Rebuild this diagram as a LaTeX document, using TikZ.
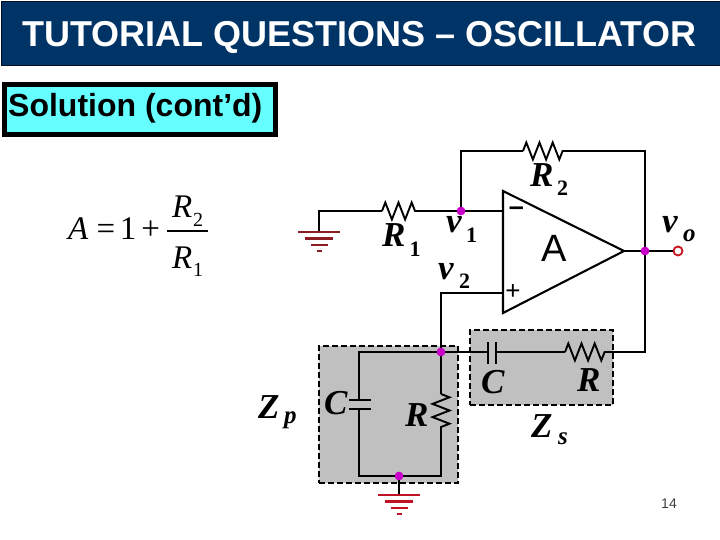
\documentclass[tikz,border=0pt]{standalone}
\usepackage{fontspec}
\setmainfont{Liberation Sans}
\newfontfamily\circuitfont{Liberation Serif}
\usetikzlibrary{decorations.pathmorphing}

\begin{document}
\begin{tikzpicture} [
    x=1pt, y=-1pt,
    wire/.style={black, line width=2.1pt, line join=miter},
    thinwire/.style={black, line width=1.7pt},
    resistor/.style={black, line width=1.9pt, decorate, decoration={zigzag, segment length=13.2pt, amplitude=8.5pt}},
    plate/.style={black, line width=2.2pt},
    impedance/.style={draw=black, fill=boxgray, line width=2pt, dash pattern=on 6pt off 3pt},
    junction/.style={circle, fill=dotmagenta, inner sep=0pt, minimum size=8.5pt},
    symbol/.style={anchor=base west, inner sep=0pt, font=\circuitfont\bfseries\itshape\fontsize{35}{35}\selectfont},
    subdigit/.style={anchor=base west, inner sep=0pt, font=\circuitfont\bfseries\fontsize{22}{22}\selectfont},
    subletter/.style={anchor=base west, inner sep=0pt, font=\circuitfont\bfseries\itshape\fontsize{25}{25}\selectfont},
    formula/.style={anchor=base west, inner sep=0pt, font=\circuitfont\fontsize{33}{33}\selectfont},
    formulasub/.style={anchor=base west, inner sep=0pt, font=\circuitfont\fontsize{20}{20}\selectfont},
    ground/.pic={
      \draw[line width=2.2pt] (-21,0) -- (21,0);
      \draw[line width=2.2pt] (-14,6.5) -- (14,6.5);
      \draw[line width=1.8pt] (-8.5,13) -- (8.5,13);
      \draw[line width=2.2pt] (-2.5,19) -- (2.5,19);
    }
  ]

\definecolor{titleblue}{RGB}{0, 51, 102}
\definecolor{boxcyan}{RGB}{102, 255, 255}
\definecolor{boxgray}{RGB}{192, 192, 192}
\definecolor{dotmagenta}{RGB}{200, 0, 200}
\definecolor{gnddark}{RGB}{140, 30, 35}
\definecolor{gndred}{RGB}{190, 20, 35}
\definecolor{outred}{RGB}{200, 20, 30}

\useasboundingbox (0,0) rectangle (720,540);

% title
\node[draw=black!70!titleblue, fill=titleblue, line width=1pt, minimum width=719pt, minimum height=64pt, anchor=north west, inner sep=0pt] (titlebar) at (0.5,1) {};
\node[anchor=base west, inner sep=0pt, text=white, font=\bfseries\fontsize{36}{36}\selectfont] (titletext) at (22,47) {TUTORIAL QUESTIONS – OSCILLATOR};

% solution box
\node[draw=black, fill=boxcyan, line width=5pt, minimum width=271pt, minimum height=50pt, anchor=north west, inner sep=0pt] (solbox) at (1.5,82.5) {};
\node[anchor=base west, inner sep=0pt, font=\bfseries\fontsize{32}{32}\selectfont] (soltext) at (8,117) {Solution (cont’d)};

% gain formula
\node[formula] (gainA) at (68,240) {\textit{A}};
\node[formula] (gainrest) at (96.5,240) {=\hspace{4.5pt}1\hspace{5pt}+};
\node[formula] (numR) at (172,218) {\textit{R}};
\node[formulasub] (numsub) at (193,226) {2};
\node[formula] (denR) at (172,268) {\textit{R}};
\node[formulasub] (densub) at (193,276) {1};
\coordinate (fracL) at (167,231);
\coordinate (fracR) at (208,231);
\draw[thinwire] (fracL) -- (fracR);

% impedance boxes
\node[impedance, minimum width=139pt, minimum height=137pt, anchor=north west, inner sep=0pt] (Zpbox) at (318,345) {};
\node[impedance, minimum width=143pt, minimum height=75pt, anchor=north west, inner sep=0pt] (Zsbox) at (469,329) {};

% junctions
\node[junction] (vonedot) at (461,211) {};
\node[junction] (vodot) at (645,251) {};
\node[junction] (vtwodot) at (441,352) {};
\node[junction] (gnddot) at (399,476) {};
\node[circle, draw=outred, fill=white, line width=1.8pt, inner sep=0pt, minimum size=9pt] (voterm) at (678,251) {};

% op amp
\coordinate (amptop) at (503,191);
\coordinate (ampbot) at (503,313);
\coordinate (ampout) at (624,251);
\draw[wire, line join=miter] (amptop) -- (ampout) -- (ampbot) -- cycle;
\coordinate (ampminus) at (503,211);
\coordinate (ampplus) at (503,293);

% left branch with R1
\coordinate (gndone) at (319,232);
\coordinate (gndonecorner) at (319,211);
\coordinate (Roneleft) at (382,211);
\coordinate (Roneright) at (421,211);
\draw[wire] (gndone) -- (gndonecorner) -- (Roneleft);
\draw[resistor] (Roneleft) -- (Roneright);
\draw[wire] (Roneright) -- (vonedot) -- (ampminus);
\pic[color=gnddark] at (319,232) {ground};

% feedback with R2
\coordinate (fbcorner) at (461,151);
\coordinate (Rtwoleft) at (523,151);
\coordinate (Rtworight) at (563,151);
\coordinate (outcorner) at (645,151);
\draw[wire] (vonedot) -- (fbcorner) -- (Rtwoleft);
\draw[resistor] (Rtwoleft) -- (Rtworight);
\draw[wire] (Rtworight) -- (outcorner) -- (vodot);

% output
\draw[thinwire] (ampout) -- (vodot) -- (voterm);

% series branch
\coordinate (seriescorner) at (645,352);
\coordinate (Rsright) at (605,352);
\coordinate (Rsleft) at (565,352);
\coordinate (Csright) at (496,352);
\coordinate (Csleft) at (488,352);
\draw[wire] (vodot) -- (seriescorner) -- (Rsright);
\draw[resistor] (Rsleft) -- (Rsright);
\draw[wire] (Rsleft) -- (Csright);
\draw[plate] (496,342) -- (496,364);
\draw[plate] (488,342) -- (488,364);
\draw[wire] (Csleft) -- (vtwodot);

% plus input
\coordinate (plusbend) at (441,293);
\draw[wire] (ampplus) -- (plusbend) -- (vtwodot);

% parallel branch
\coordinate (toplcorner) at (359,352);
\coordinate (Cptop) at (359,400);
\coordinate (Cpbot) at (359,409);
\coordinate (botlcorner) at (359,476);
\coordinate (botrcorner) at (441,476);
\coordinate (Rptop) at (441,394);
\coordinate (Rpbot) at (441,433);
\draw[wire] (vtwodot) -- (toplcorner) -- (Cptop);
\draw[plate] (349,400) -- (371,400);
\draw[plate] (349,409) -- (371,409);
\draw[wire] (Cpbot) -- (botlcorner) -- (gnddot) -- (botrcorner) -- (Rpbot);
\draw[resistor] (Rptop) -- (Rpbot);
\draw[wire] (Rptop) -- (vtwodot);

% bottom ground
\coordinate (gndtwo) at (399,495);
\draw[wire] (gnddot) -- (gndtwo);
\pic[color=gndred] at (399,495) {ground};

% redraw dots on top of wires
\node[junction] at (vonedot) {};
\node[junction] at (vodot) {};
\node[junction] at (vtwodot) {};
\node[junction] at (gnddot) {};

% op amp texts
\node[anchor=base west, inner sep=0pt, font=\fontsize{38}{38}\selectfont] (ampA) at (541,261) {A};
\node[anchor=center, inner sep=0pt, font=\bfseries\fontsize{27}{27}\selectfont] (minussign) at (516.5,211) {–};
\node[anchor=center, inner sep=0pt, font=\fontsize{26}{26}\selectfont] (plussign) at (513,292) {+};

% circuit labels
\node[symbol] (Rone) at (382,247) {R};
\node[subdigit] (Ronesub) at (409.5,256) {1};
\node[symbol] (vone) at (446,233) {v};
\node[subdigit] (vonesub) at (466,242) {1};
\node[symbol] (vtwo) at (438,279) {v};
\node[subdigit] (vtwosub) at (459,288) {2};
\node[symbol] (Rtwo) at (530,187) {R};
\node[subdigit] (Rtwosub) at (557,196) {2};
\node[symbol] (vo) at (662,233) {v};
\node[subletter] (vosub) at (683,241) {o};
\node[symbol] (Zp) at (258,418) {Z};
\node[subletter] (Zpsub) at (284,423) {p};
\node[symbol] (Cp) at (324,414) {C};
\node[symbol] (Rp) at (405,426) {R};
\node[symbol] (Cs) at (481,393) {C};
\node[symbol] (Rs) at (577,391) {R};
\node[symbol] (Zs) at (531,437) {Z};
\node[subletter] (Zssub) at (558,444) {s};

% page number
\node[anchor=base east, inner sep=0pt, text=black!75, font=\fontsize{14}{14}\selectfont] (pagenum) at (677,508) {14};

\end{tikzpicture}
\end{document}
